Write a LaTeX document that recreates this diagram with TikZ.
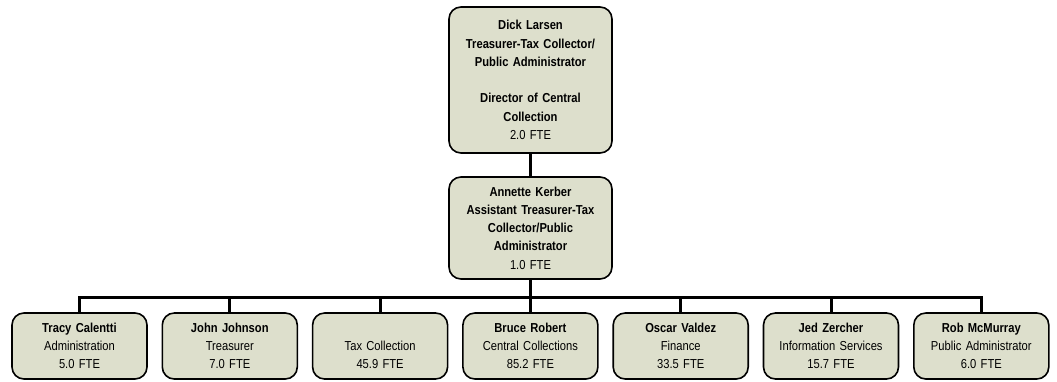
\documentclass[tikz,border=0pt]{standalone}
\usepackage{fontspec}
\setmainfont{Liberation Sans}[FakeStretch=0.86]
\definecolor{boxfill}{RGB}{221,223,204}
\tikzset{
  unit/.style={draw=black, line width=1.6pt, fill=boxfill, rounded corners=12pt,
    align=center, inner sep=0pt, font=\fontsize{13}{18.3}\selectfont},
  head/.style={unit, minimum width=163pt, text width=150pt},
  dept/.style={unit, minimum width=135pt, minimum height=66pt, text width=130pt},
  link/.style={black, line width=3pt}
}

\begin{document}
\begin{tikzpicture}[x=1pt, y=-1pt]
  \useasboundingbox (0,0) rectangle (1057,381);

  \node[head, minimum height=146pt] (dick) at (530.5, 80)
    {\bfseries Dick Larsen\\Treasurer-Tax Collector/\\Public Administrator\\~\\Director of Central\\Collection\\\mdseries 2.0 FTE};
  \node[head, minimum height=102pt] (annette) at (530.5,228)
    {\bfseries Annette Kerber\\Assistant Treasurer-Tax\\Collector/Public\\Administrator\\\mdseries 1.0 FTE};
  \coordinate (bus) at (530.5,297);

  \node[dept] (tracy) at ( 79.5,346) {\textbf{Tracy Calentti}\\Administration\\5.0 FTE};
  \node[dept] (john)  at (229.8,346) {\textbf{John Johnson}\\Treasurer\\7.0 FTE};
  \node[dept] (tax)   at (380.1,346) {\vphantom{T}\\Tax Collection\\45.9 FTE};
  \node[dept] (bruce) at (530.4,346) {\textbf{Bruce Robert}\\Central Collections\\85.2 FTE};
  \node[dept] (oscar) at (680.7,346) {\textbf{Oscar Valdez}\\Finance\\33.5 FTE};
  \node[dept] (jed)   at (831.0,346) {\textbf{Jed Zercher}\\Information Services\\15.7 FTE};
  \node[dept] (rob)   at (981.3,346) {\textbf{Rob McMurray}\\Public Administrator\\6.0 FTE};

  \draw[link] (dick) -- (annette);
  \draw[link] (annette) -- (bus);
  \draw[link, line cap=rect] (tracy.north |- bus) -- (rob.north |- bus);
  \foreach \n in {tracy,john,tax,bruce,oscar,jed,rob}
    \draw[link] (\n.north |- bus) -- (\n.north);
\end{tikzpicture}
\end{document}
